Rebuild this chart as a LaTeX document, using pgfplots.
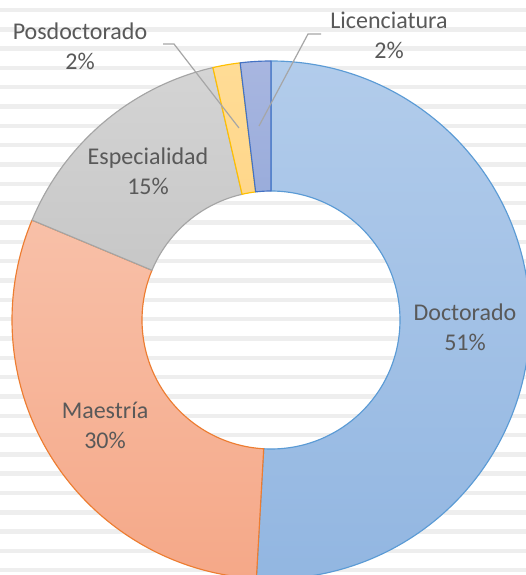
\documentclass[border=0pt]{standalone}
\usepackage{pgfplots}
\pgfplotsset{compat=1.18}
\usepackage{pgfplotstable}
\usepackage{fontspec}
\setmainfont{Carlito}
\definecolor{labelgray}{RGB}{89,89,89}
\definecolor{leader}{RGB}{166,166,166}
\definecolor{stripe}{RGB}{238,238,238}
% fills (top/bottom of gradient) and edges
\definecolor{t0}{RGB}{178,204,235}\definecolor{b0}{RGB}{146,182,225}\definecolor{e0}{RGB}{91,155,213}
\definecolor{t1}{RGB}{248,192,168}\definecolor{b1}{RGB}{245,168,136}\definecolor{e1}{RGB}{237,125,49}
\definecolor{t2}{RGB}{212,212,212}\definecolor{b2}{RGB}{196,196,196}\definecolor{e2}{RGB}{165,165,165}
\definecolor{t3}{RGB}{255,220,150}\definecolor{b3}{RGB}{254,210,128}\definecolor{e3}{RGB}{255,192,0}
\definecolor{t4}{RGB}{168,182,224}\definecolor{b4}{RGB}{140,163,214}\definecolor{e4}{RGB}{68,114,196}

\pgfplotstableread{
label value lx ly
Doctorado 50.9 465 248
Maestría 30.4 105 150
Especialidad 15.1 148 404
Posdoctorado 1.7 80 529
Licenciatura 1.9 389 540
}\datatable

\def\cum{0}
\pgfplotsforeachungrouped \i in {0,...,4}{%
  \pgfplotstablegetelem{\i}{value}\of\datatable
  \let\val\pgfplotsretval
  \pgfmathsetmacro\aS{90-3.6*\cum}%
  \pgfmathsetmacro\cumnew{\cum+\val}%
  \pgfmathsetmacro\aE{90-3.6*\cumnew}%
  \pgfmathtruncatemacro\pct{round(\val)}%
  \expandafter\xdef\csname aS\i\endcsname{\aS}%
  \expandafter\xdef\csname aE\i\endcsname{\aE}%
  \expandafter\xdef\csname pct\i\endcsname{\pct}%
  \pgfplotstablegetelem{\i}{label}\of\datatable
  \expandafter\xdef\csname lab\i\endcsname{\pgfplotsretval}%
  \pgfplotstablegetelem{\i}{lx}\of\datatable
  \expandafter\xdef\csname lx\i\endcsname{\pgfplotsretval}%
  \pgfplotstablegetelem{\i}{ly}\of\datatable
  \expandafter\xdef\csname ly\i\endcsname{\pgfplotsretval}%
  \xdef\cum{\cumnew}%
}

\begin{document}
\begin{tikzpicture}
\begin{axis}[
  x=1pt, y=1pt,
  xmin=0, xmax=526, ymin=0, ymax=575,
  scale only axis, hide axis, clip=true,
]
% background stripes
\fill[white] (axis cs:0,0) rectangle (axis cs:526,575);
\pgfplotsinvokeforeach{0,...,29}{
  \fill[stripe] (axis cs:0,{565-19.32*#1-2.2}) rectangle (axis cs:526,{565-19.32*#1+2.2});
}
% donut wedges
\pgfplotsinvokeforeach{0,...,4}{
  \path[top color=t#1, bottom color=b#1, draw=e#1, line width=1.15pt, line join=round]
    (axis cs:271,255) ++(\csname aS#1\endcsname:259pt)
    arc[start angle=\csname aS#1\endcsname, end angle=\csname aE#1\endcsname, radius=259pt]
    -- ++(\csname aE#1\endcsname+180:130pt)
    arc[start angle=\csname aE#1\endcsname, end angle=\csname aS#1\endcsname, radius=129pt]
    -- cycle;
}
% leader lines
\draw[leader, line width=1.2pt] (axis cs:163,531) -- (axis cs:174,531) -- (axis cs:239,447);
\draw[leader, line width=1.2pt] (axis cs:321,541) -- (axis cs:308,541) -- (axis cs:259,449);
% labels
\pgfplotsinvokeforeach{0,...,4}{
  \node[align=center, text=labelgray, font=\fontsize{24}{30}\selectfont, inner sep=0pt]
    at (axis cs:\csname lx#1\endcsname,\csname ly#1\endcsname)
    {\csname lab#1\endcsname\\\csname pct#1\endcsname\%};
}
\end{axis}
\end{tikzpicture}
\end{document}
